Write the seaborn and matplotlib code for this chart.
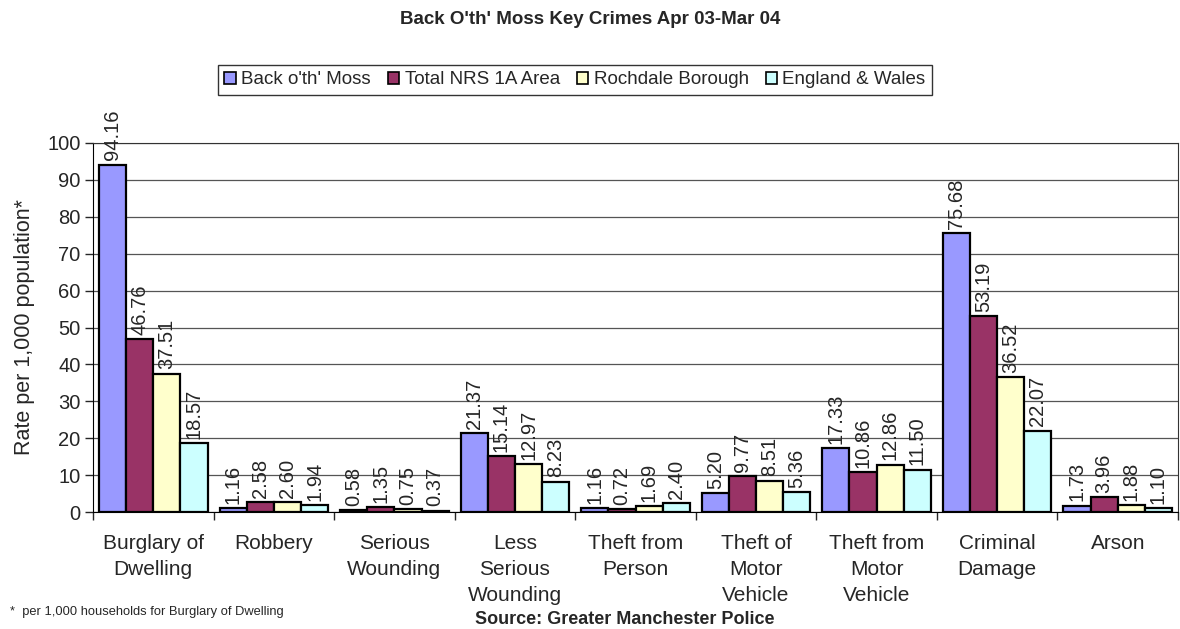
import numpy as np
import pandas as pd
import matplotlib
matplotlib.use("Agg")
import matplotlib.pyplot as plt
import seaborn as sns

categories = ["Burglary of\nDwelling", "Robbery", "Serious\nWounding", "Less\nSerious\nWounding",
              "Theft from\nPerson", "Theft of\nMotor\nVehicle", "Theft from\nMotor\nVehicle",
              "Criminal\nDamage", "Arson"]
series_names = ["Back o'th' Moss", "Total NRS 1A Area", "Rochdale Borough", "England & Wales"]
back_oth_moss = [94.16, 1.16, 0.58, 21.37, 1.16, 5.20, 17.33, 75.68, 1.73]
total_nrs = [46.76, 2.58, 1.35, 15.14, 0.72, 9.77, 10.86, 53.19, 3.96]
rochdale = [37.51, 2.60, 0.75, 12.97, 1.69, 8.51, 12.86, 36.52, 1.88]
england_wales = [18.57, 1.94, 0.37, 8.23, 2.40, 5.36, 11.50, 22.07, 1.10]
colors = ["#9999FF", "#993366", "#FFFFCC", "#CCFFFF"]

sns.set_style("white")
plt.rcParams['font.family'] = ['Liberation Sans', 'DejaVu Sans']

rows = []
for name, vals in zip(series_names, [back_oth_moss, total_nrs, rochdale, england_wales]):
    for c, v in zip(categories, vals):
        rows.append({"Crime": c, "Series": name, "Rate": v})
df = pd.DataFrame(rows)

fig = plt.figure(figsize=(11.8, 6.29), dpi=100)
ax_top, ax_bot = 143, 512
ax = fig.add_axes([93/1180, 1-ax_bot/629, (1178-93)/1180, (ax_bot-ax_top)/629])

sns.barplot(data=df, x="Crime", y="Rate", hue="Series", order=categories,
            hue_order=series_names, palette=colors, width=0.9, ax=ax,
            edgecolor="black", linewidth=1.6, saturation=1, legend=True)

for cont in ax.containers:
    ax.bar_label(cont, fmt="%.2f", rotation=90, padding=3, fontsize=14.5)

ax.set_ylim(0, 100)
ax.set_xlim(-0.5, len(categories) - 0.5)
ax.set_yticks(np.arange(0, 101, 10))
ax.yaxis.grid(True, color="#555555", linewidth=0.9)
ax.set_axisbelow(True)
ax.tick_params(axis="y", direction="out", length=6, width=1, labelsize=14.5, left=True, pad=3)
ax.tick_params(axis="x", which="major", length=0, labelsize=15, pad=16)
for lab in ax.get_xticklabels():
    lab.set_linespacing(1.47)
ax.set_xticks(np.arange(-0.5, len(categories), 1.0), minor=True)
ax.tick_params(axis="x", which="minor", direction="out", length=6, width=1, bottom=True)
for s in ["left", "bottom", "right", "top"]:
    ax.spines[s].set_visible(True)
    ax.spines[s].set_color("#333333")
ax.spines["left"].set_color("black")
ax.spines["bottom"].set_color("black")
ax.set_xlabel("")
ax.set_ylabel("Rate per 1,000 population*", fontsize=15.5, labelpad=9)

leg = ax.legend(loc="center", bbox_to_anchor=(575/1180, 1-80/629), bbox_transform=fig.transFigure,
                ncol=4, frameon=True, fontsize=13.5, handlelength=0.6, handleheight=0.6,
                handletextpad=0.3, columnspacing=0.9, borderpad=0.35, fancybox=False,
                edgecolor="black")
leg.get_frame().set_linewidth(1.0)
for h in leg.legend_handles:
    h.set_edgecolor("black")
    h.set_linewidth(1.2)

fig.text(590/1180, 1-19/629, "Back O'th' Moss Key Crimes Apr 03-Mar 04", ha="center", va="center",
         fontsize=13.5, fontweight="bold")
fig.text(10/1180, 1-612/629, "*  per 1,000 households for Burglary of Dwelling", ha="left", va="center",
         fontsize=9.3)
fig.text(625/1180, 1/629, "Source: Greater Manchester Police", ha="center", va="bottom",
         fontsize=13, fontweight="bold")

fig.savefig("out.png", dpi=100)
